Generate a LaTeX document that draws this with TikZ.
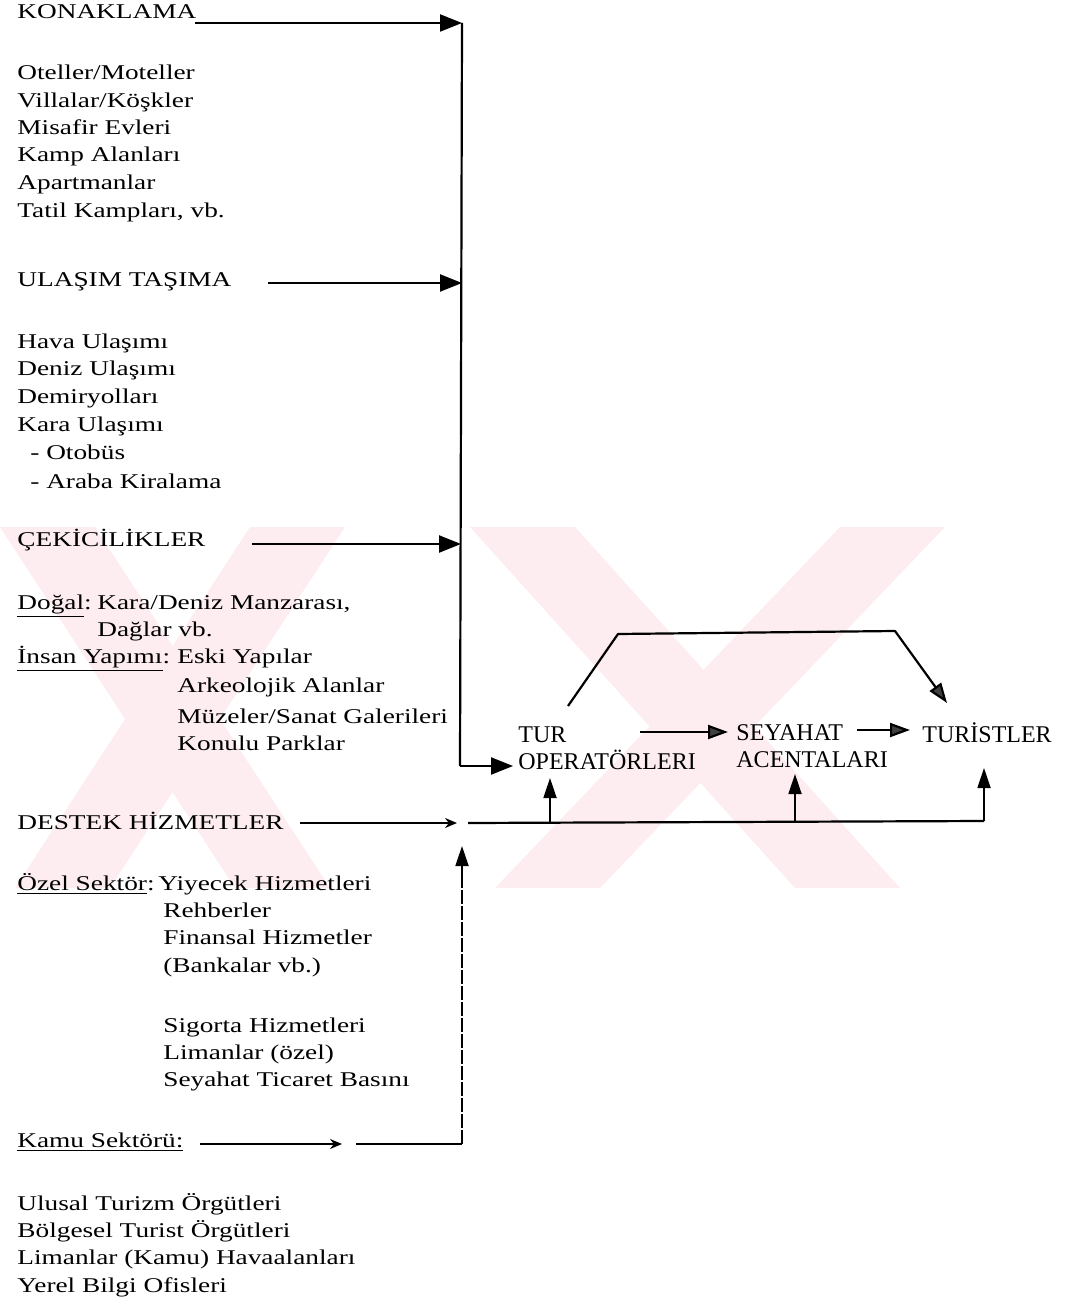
\documentclass[tikz,border=0pt]{standalone}
\usepackage{fontspec}
\setmainfont{Liberation Serif}[FakeStretch=1.3]
\newfontfamily\flowfont{Liberation Serif}
\usetikzlibrary{arrows.meta}
\definecolor{wmpink}{RGB}{253,237,240}
\begin{document}
\begin{tikzpicture}[x=0.5pt,y=-0.5pt,
  txt/.style={anchor=base west,inner sep=0pt,font=\fontsize{10.5}{12}\selectfont},
  flowlbl/.style={anchor=north west,inner sep=0pt,align=left,
    font=\flowfont\fontsize{12}{13.6}\selectfont},
  feed/.style={line width=1.1pt,-{Triangle[length=11pt,width=8.5pt]}},
  pass/.style={line width=1.1pt,-{Triangle[length=10pt,width=7pt,fill=black!75]}},
  upper/.style={line width=0.9pt,-{Triangle[length=10pt,width=6.5pt]}},
  small/.style={line width=0.9pt,-{Stealth[length=6pt,width=5pt]}},
  plain/.style={line width=0.9pt},
  broken/.style={line width=0.9pt,dash pattern=on 7pt off 1pt}]
\useasboundingbox (0,0) rectangle (1064,1304);

% faint background pattern
\begin{scope}
  \clip (0,527) rectangle (1000,888);
  \fill[wmpink] (0,527) -- (95,527) -- (330,888) -- (235,888) -- cycle;
  \fill[wmpink] (250,527) -- (345,527) -- (110,888) -- (15,888) -- cycle;
  \fill[wmpink] (470,527) -- (575,527) -- (900,888) -- (795,888) -- cycle;
  \fill[wmpink] (840,527) -- (945,527) -- (600,888) -- (495,888) -- cycle;
\end{scope}

% accommodation
\node[txt] (konaklama) at (17,19) {KONAKLAMA};
\node[txt] (k1) at (17,80) {Oteller/Moteller};
\node[txt] (k2) at (17,108) {Villalar/Köşkler};
\node[txt] (k3) at (17,135) {Misafir Evleri};
\node[txt] (k4) at (17,162) {Kamp Alanları};
\node[txt] (k5) at (17,190) {Apartmanlar};
\node[txt] (k6) at (17,218) {Tatil Kampları, vb.};

% transport
\node[txt] (ulasim) at (17,287) {ULAŞIM TAŞIMA};
\node[txt] (u1) at (17,349) {Hava Ulaşımı};
\node[txt] (u2) at (17,376) {Deniz Ulaşımı};
\node[txt] (u3) at (17,403) {Demiryolları};
\node[txt] (u4) at (17,431) {Kara Ulaşımı};
\node[txt] (u5) at (30,459) {- Otobüs};
\node[txt] (u6) at (30,488) {- Araba Kiralama};

% attractions
\node[txt] (cekici) at (17,546) {ÇEKİCİLİKLER};
\node[txt] (dogal) at (17,609) {\underline{Doğal}:};
\node[txt] (c1) at (97,609) {Kara/Deniz Manzarası,};
\node[txt] (c2) at (97,636) {Dağlar vb.};
\node[txt] (insan) at (17,663) {\underline{İnsan Yapımı}:};
\node[txt] (c3) at (177,663) {Eski Yapılar};
\node[txt] (c4) at (177,692) {Arkeolojik Alanlar};
\node[txt] (c5) at (177,723) {Müzeler/Sanat Galerileri};
\node[txt] (c6) at (177,750) {Konulu Parklar};

% support services
\node[txt] (destek) at (17,829) {DESTEK HİZMETLER};
\node[txt] (ozel) at (17,890) {\underline{Özel Sektör}:};
\node[txt] (o1) at (158,890) {Yiyecek Hizmetleri};
\node[txt] (o2) at (163,917) {Rehberler};
\node[txt] (o3) at (163,944) {Finansal Hizmetler};
\node[txt] (o4) at (163,972) {(Bankalar vb.)};
\node[txt] (o5) at (163,1032) {Sigorta Hizmetleri};
\node[txt] (o6) at (163,1059) {Limanlar (özel)};
\node[txt] (o7) at (163,1086) {Seyahat Ticaret Basını};
\node[txt] (kamu) at (17,1147) {\underline{Kamu Sektörü:}};
\node[txt] (p1) at (17,1210) {Ulusal Turizm Örgütleri};
\node[txt] (p2) at (17,1237) {Bölgesel Turist Örgütleri};
\node[txt] (p3) at (17,1264) {Limanlar (Kamu) Havaalanları};
\node[txt] (p4) at (17,1292) {Yerel Bilgi Ofisleri};

% distribution chain
\node[flowlbl] (tur) at (518,726) {TUR\\OPERATÖRLERI};
\node[flowlbl] (seyahat) at (736,724) {SEYAHAT\\ACENTALARI};
\node[flowlbl] (turist) at (922,722) {TURİSTLER};

% collecting trunk
\coordinate (konStart) at (195,23);
\coordinate (konEnd) at (462,23);
\coordinate (ulaStart) at (268,283);
\coordinate (ulaEnd) at (462,283);
\coordinate (cekStart) at (252,544);
\coordinate (cekEnd) at (461,544);
\coordinate (trunkBot) at (460,766);

\draw[plain,line width=1.1pt] (konEnd) -- (trunkBot);
\draw[feed] (konStart) -- (konEnd);
\draw[feed] (ulaStart) -- (ulaEnd);
\draw[feed] (cekStart) -- (cekEnd);
\draw[feed,shorten >=2.5pt] (trunkBot) -- (trunkBot -| tur.west);

% chain arrows
\coordinate (tsStart) at (640,732);
\coordinate (stStart) at (857,730);
\draw[pass,shorten >=4pt] (tsStart) -- (tsStart -| seyahat.west);
\draw[pass,shorten >=6pt] (stStart) -- (stStart -| turist.west);

% bypass from tour operators to tourists
\coordinate (byA) at (568,706);
\coordinate (byB) at (618,634);
\coordinate (byC) at (895,631);
\coordinate (byD) at (947,703);
\draw[pass,line join=round] (byA) -- (byB) -- (byC) -- (byD);

% support services bus
\coordinate (desStart) at (300,823);
\coordinate (desEnd) at (457,823);
\coordinate (busL) at (468,823);
\coordinate (busT) at (550,823);
\coordinate (busS) at (795,822);
\coordinate (busR) at (984,821);
\draw[small] (desStart) -- (desEnd);
\draw[plain,line width=1.1pt] (busL) -- (busR);
\draw[upper] (busT) -- ++(0,-45);
\draw[upper] (busS) -- ++(0,-48);
\draw[upper] (busR) -- ++(0,-53);

% public sector feed
\coordinate (kamStart) at (200,1144);
\coordinate (kamMid) at (342,1144);
\coordinate (kamRes) at (356,1144);
\coordinate (kamCorner) at (462,1144);
\coordinate (kamTip) at (462,846);
\draw[small] (kamStart) -- (kamMid);
\draw[plain] (kamRes) -- (kamCorner);
\draw[broken] (kamCorner) -- ++(0,-270);
\draw[upper] (462,880) -- (kamTip);
\end{tikzpicture}
\end{document}
